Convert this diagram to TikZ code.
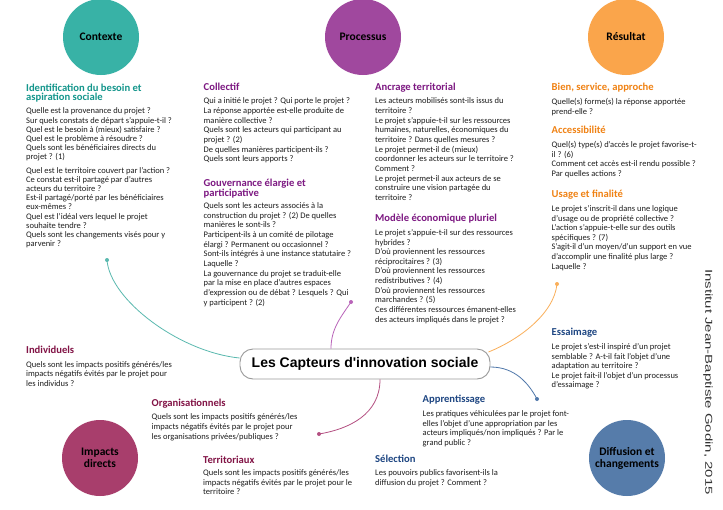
\documentclass[tikz,border=0pt]{standalone}
\usepackage{fontspec}
\setmainfont{Carlito}
\newfontfamily\arialfont{Liberation Sans}
\usepackage{graphicx}
\usepackage{tikz}
\usetikzlibrary{calc,positioning}
\definecolor{ctxfill}{RGB}{56,178,166}
\definecolor{procfill}{RGB}{160,72,158}
\definecolor{resfill}{RGB}{250,165,75}
\definecolor{impfill}{RGB}{168,62,108}
\definecolor{difffill}{RGB}{86,124,170}
\definecolor{ctxtitle}{RGB}{20,150,140}
\definecolor{proctitle}{RGB}{125,25,130}
\definecolor{restitle}{RGB}{240,130,20}
\definecolor{imptitle}{RGB}{130,20,70}
\definecolor{difftitle}{RGB}{30,70,130}
\definecolor{ctxline}{RGB}{90,185,175}
\definecolor{procline}{RGB}{185,100,185}
\definecolor{resline}{RGB}{250,175,90}
\definecolor{impline}{RGB}{180,80,130}
\definecolor{diffline}{RGB}{80,120,170}
\definecolor{bodygray}{RGB}{30,30,30}

\begin{document}
\begin{tikzpicture}[x=1pt,y=-1pt,
        bubble/.style={circle,minimum size=76pt,inner sep=0pt,align=center,
            font=\fontsize{11.5}{12}\selectfont\bfseries,text=black},
        ttl/.style={anchor=north west,yshift=7.6pt,inner sep=0pt,align=left,
            execute at begin node={\vrule width 0pt height 7.6pt},
            font=\fontsize{10.6}{9.8}\selectfont\bfseries},
        txt/.style={anchor=north west,yshift=6.5pt,inner sep=0pt,align=left,
            execute at begin node={\vrule width 0pt height 6.5pt},
            font=\fontsize{8.5}{9.65}\selectfont,text=bodygray},
        dot/.style={circle,fill,inner sep=0pt,minimum size=4pt},
        link/.style={line width=0.8pt}]
    \useasboundingbox[fill=white] (0,0) rectangle (723,509);
    %Bubbles
    \node[bubble,fill=ctxfill] (contexte) at (101,37) {Contexte};
    \node[bubble,fill=procfill] (processus) at (363,37) {Processus};
    \node[bubble,fill=resfill] (resultat) at (626,37) {Résultat};
    \node[bubble,fill=impfill] (impacts) at (100,458) {Impacts\\directs};
    \node[bubble,fill=difffill] (diffusion) at (627,458) {Diffusion et\\changements};
    %Contexte
    \node[ttl,text=ctxtitle] (besoin) at (26,91) {Identification du besoin et\\aspiration sociale};
    \node[txt,font=\fontsize{8.5}{9.1}\selectfont] (besointxt) at (26,114.3) {Quelle est la provenance du projet ?\\
        Sur quels constats de départ s'appuie-t-il ?\\
        Quel est le besoin à (mieux) satisfaire ?\\
        Quel est le problème à résoudre ?\\
        Quels sont les bénéficiaires directs du\\
        projet ? (1)\\[5pt]
        Quel est le territoire couvert par l'action ?\\
        Ce constat est-il partagé par d'autres\\
        acteurs du territoire ?\\
        Est-il partagé/porté par les bénéficiaires\\
        eux-mêmes ?\\
        Quel est l'idéal vers lequel le projet\\
        souhaite tendre ?\\
        Quels sont les changements visés pour y\\
        parvenir ?};
    %Processus
    \node[ttl,text=proctitle] (collectif) at (203.5,90) {Collectif};
    \node[txt] (collectiftxt) at (203.5,104.3) {Qui a initié le projet ? Qui porte le projet ?\\
        La réponse apportée est-elle produite de\\
        manière collective ?\\
        Quels sont les acteurs qui participant au\\
        projet ? (2)\\
        De quelles manières participent-ils ?\\
        Quels sont leurs apports ?};
    \node[ttl,text=proctitle] (gouvernance) at (203.5,186.3) {Gouvernance élargie et\\participative};
    \node[txt] (gouvernancetxt) at (203.5,209) {Quels sont les acteurs associés à la\\
        construction du projet ? (2) De quelles\\
        manières le sont-ils ?\\
        Participent-ils à un comité de pilotage\\
        élargi ? Permanent ou occasionnel ?\\
        Sont-ils intégrés à une instance statutaire ?\\
        Laquelle ?\\
        La gouvernance du projet se traduit-elle\\
        par la mise en place d'autres espaces\\
        d'expression ou de débat ? Lesquels ? Qui\\
        y participent ? (2)};
    \node[ttl,text=proctitle] (ancrage) at (375,90) {Ancrage territorial};
    \node[txt] (ancragetxt) at (375,104.3) {Les acteurs mobilisés sont-ils issus du\\
        territoire ?\\
        Le projet s'appuie-t-il sur les ressources\\
        humaines, naturelles, économiques du\\
        territoire ? Dans quelles mesures ?\\
        Le projet permet-il de (mieux)\\
        coordonner les acteurs sur le territoire ?\\
        Comment ?\\
        Le projet permet-il aux acteurs de se\\
        construire une vision partagée du\\
        territoire ?};
    \node[ttl,text=proctitle] (modele) at (375,221.3) {Modèle économique pluriel};
    \node[txt] (modeletxt) at (375,235.7) {Le projet s'appuie-t-il sur des ressources\\
        hybrides ?\\
        D'où proviennent les ressources\\
        réciprocitaires ? (3)\\
        D'où proviennent les ressources\\
        redistributives ? (4)\\
        D'où proviennent les ressources\\
        marchandes ? (5)\\
        Ces différentes ressources émanent-elles\\
        des acteurs impliqués dans le projet ?};
    %Resultat
    \node[ttl,text=restitle] (bien) at (551.5,90.3) {Bien, service, approche};
    \node[txt] (bientxt) at (551.5,105) {Quelle(s) forme(s) la réponse apportée\\
        prend-elle ?};
    \node[ttl,text=restitle] (acces) at (551.5,133) {Accessibilité};
    \node[txt] (accestxt) at (551.5,147.7) {Quel(s) type(s) d'accès le projet favorise-t-\\
        il ? (6)\\
        Comment cet accès est-il rendu possible ?\\
        Par quelles actions ?};
    \node[ttl,text=restitle] (usage) at (551.5,197.6) {Usage et finalité};
    \node[txt] (usagetxt) at (551.5,211.7) {Le projet s'inscrit-il dans une logique\\
        d'usage ou de propriété collective ?\\
        L'action s'appuie-t-elle sur des outils\\
        spécifiques ? (7)\\
        S'agit-il d'un moyen/d'un support en vue\\
        d'accomplir une finalité plus large ?\\
        Laquelle ?};
    %Diffusion
    \node[ttl,text=difftitle] (essaimage) at (551.5,335) {Essaimage};
    \node[txt] (essaimagetxt) at (551.5,349.7) {Le projet s'est-il inspiré d'un projet\\
        semblable ? A-t-il fait l'objet d'une\\
        adaptation au territoire ?\\
        Le projet fait-il l'objet d'un processus\\
        d'essaimage ?};
    \node[ttl,text=difftitle] (apprent) at (422.5,402.3) {Apprentissage};
    \node[txt] (apprenttxt) at (422.5,417) {Les pratiques véhiculées par le projet font-\\
        elles l'objet d'une appropriation par les\\
        acteurs impliqués/non impliqués ? Par le\\
        grand public ?};
    \node[ttl,text=difftitle] (selection) at (375,462.3) {Sélection};
    \node[txt] (selectiontxt) at (375,476.3) {Les pouvoirs publics favorisent-ils la\\
        diffusion du projet ? Comment ?};
    %Impacts
    \node[ttl,text=imptitle] (individus) at (26,353) {Individuels};
    \node[txt] (individustxt) at (26,367.7) {Quels sont les impacts positifs générés/les\\
        impacts négatifs évités par le projet pour\\
        les individus ?};
    \node[ttl,text=imptitle] (organis) at (151.5,406.6) {Organisationnels};
    \node[txt] (organistxt) at (151.5,420.3) {Quels sont les impacts positifs générés/les\\
        impacts négatifs évités par le projet pour\\
        les organisations privées/publiques ?};
    \node[ttl,text=imptitle] (territ) at (203,463) {Territoriaux};
    \node[txt] (territtxt) at (203,476) {Quels sont les impacts positifs générés/les\\
        impacts négatifs évités par le projet pour le\\
        territoire ?};
    %Centre
    \node[draw=black!40,line width=0.9pt,rounded corners=13pt,fill=white,
        minimum width=250pt,minimum height=30pt,
        font=\arialfont\fontsize{14}{16}\selectfont\bfseries] (capteurs) at (365,364)
        {Les Capteurs d'innovation sociale};
    %Links
    \node[dot,ctxline] (ctxdot) at (107,260) {};
    \node[dot,procline] (procdot) at (351,302) {};
    \node[dot,resline] (resdot) at (557,284) {};
    \node[dot,diffline] (diffdot) at (537,399) {};
    \node[dot,impline] (impdot) at (319,434) {};
    \draw[link,ctxline] ([yshift=6pt]capteurs.west) .. controls +(-60,-6) and +(3,40) .. (ctxdot.center);
    \draw[link,procline] ([xshift=-34pt]capteurs.north) .. controls +(0,-20) and +(-10,15) .. (procdot.center);
    \draw[link,resline] ([xshift=-2pt,yshift=12pt]capteurs.east) .. controls +(30,-12) and +(-3,30) .. (resdot.center);
    \draw[link,diffline] ([yshift=-3pt]capteurs.east) .. controls +(25,0) and +(-8,-15) .. (diffdot.center);
    \draw[link,impline] ([xshift=15pt]capteurs.south) .. controls +(0,35) and +(30,-5) .. (impdot.center);
    %Credit
    \node[rotate=-90,inner sep=0pt,text=black!80,font=\arialfont\fontsize{10}{12}\selectfont] (credit) at (708,382)
        {\scalebox{1.5}[1]{Institut Jean-Baptiste Godin, 2015}};
\end{tikzpicture}
\end{document}
